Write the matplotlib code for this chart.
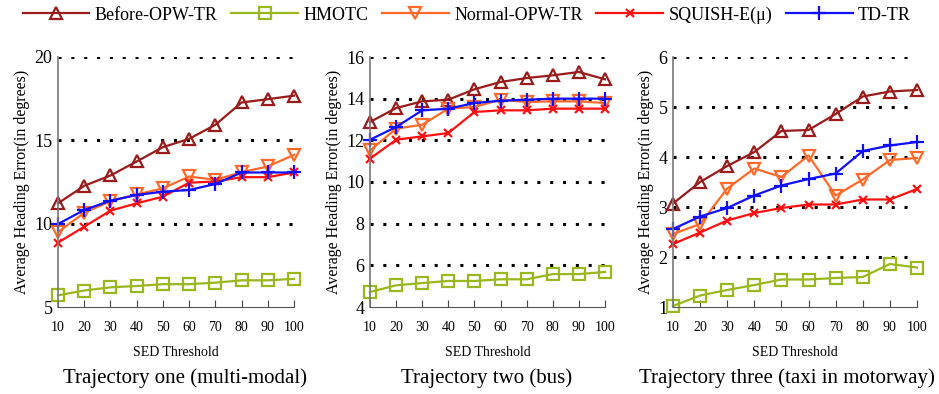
import matplotlib
matplotlib.use("Agg")
import matplotlib.pyplot as plt

plt.rcParams['font.family'] = ['Liberation Serif', 'DejaVu Serif']

# ── Data ──────────────────────────────────────────────────────────────────────
thresholds = [10, 20, 30, 40, 50, 60, 70, 80, 90, 100]

series_names = ['Before-OPW-TR', 'HMOTC', 'Normal-OPW-TR', 'SQUISH-E(\u03bc)', 'TD-TR']

# Trajectory one (multi-modal)
t1_before = [11.22, 12.27, 12.89, 13.73, 14.59, 15.09, 15.93, 17.27, 17.47, 17.68]
t1_hmotc  = [5.70, 5.99, 6.18, 6.26, 6.37, 6.37, 6.46, 6.60, 6.60, 6.69]
t1_normal = [9.50, 10.65, 11.35, 11.75, 12.12, 12.83, 12.63, 13.09, 13.43, 14.13]
t1_squish = [8.86, 9.82, 10.78, 11.22, 11.62, 12.46, 12.53, 12.79, 12.79, 13.07]
t1_td     = [9.98, 10.82, 11.38, 11.72, 11.92, 12.02, 12.38, 13.07, 13.07, 13.07]

# Trajectory two (bus)
t2_before = [12.88, 13.55, 13.87, 13.95, 14.45, 14.80, 14.99, 15.12, 15.28, 14.93]
t2_hmotc  = [4.72, 5.04, 5.15, 5.25, 5.25, 5.33, 5.33, 5.58, 5.58, 5.68]
t2_normal = [11.52, 12.56, 12.75, 13.52, 13.60, 13.95, 13.84, 13.87, 13.87, 13.79]
t2_squish = [11.12, 12.03, 12.19, 12.35, 13.36, 13.44, 13.44, 13.52, 13.52, 13.52]
t2_td     = [12.03, 12.64, 13.44, 13.52, 13.79, 13.90, 13.95, 14.00, 14.00, 14.00]

# Trajectory three (taxi in motorway)
t3_before = [3.07, 3.50, 3.82, 4.10, 4.52, 4.54, 4.86, 5.21, 5.31, 5.34]
t3_hmotc  = [1.02, 1.23, 1.34, 1.44, 1.55, 1.55, 1.58, 1.60, 1.86, 1.79]
t3_normal = [2.46, 2.66, 3.37, 3.77, 3.60, 4.03, 3.23, 3.55, 3.94, 3.98]
t3_squish = [2.26, 2.49, 2.73, 2.88, 2.98, 3.05, 3.05, 3.15, 3.15, 3.36]
t3_td     = [2.56, 2.81, 2.98, 3.23, 3.43, 3.56, 3.67, 4.12, 4.23, 4.30]

panels = [
    ('Trajectory one (multi-modal)', [t1_before, t1_hmotc, t1_normal, t1_squish, t1_td], (5, 20), [5, 10, 15, 20]),
    ('Trajectory two (bus)', [t2_before, t2_hmotc, t2_normal, t2_squish, t2_td], (4, 16), [4, 6, 8, 10, 12, 14, 16]),
    ('Trajectory three (taxi in motorway)', [t3_before, t3_hmotc, t3_normal, t3_squish, t3_td], (1, 6), [1, 2, 3, 4, 5, 6]),
]

# ── Styles ────────────────────────────────────────────────────────────────────
styles = [
    dict(color='#9b1b1b', marker='^', mfc='none', ms=9),
    dict(color='#99b81e', marker='s', mfc='none', ms=8),
    dict(color='#ff6a2a', marker='v', mfc='none', ms=9),
    dict(color='#ff1010', marker='x', ms=6),
    dict(color='#1010ff', marker='+', ms=10),
]

fig = plt.figure(figsize=(9.39, 3.94), dpi=100)
W, H = 939, 394
ax_boxes = [(58, 294), (370, 605), (673, 917)]
title_x = [185, 487, 787]
top_px, bot_px = 57, 307

for (title, data, ylim, yticks), (x0, x1), tx in zip(panels, ax_boxes, title_x):
    ax = fig.add_axes([x0 / W, 1 - bot_px / H, (x1 - x0) / W, (bot_px - top_px) / H])
    for vals, name, st in zip(data, series_names, styles):
        ax.plot(thresholds, vals, lw=1.6, mew=1.6, label=name, clip_on=False, **st)
    ax.set_xlim(10, 100)
    ax.set_ylim(*ylim)
    ax.set_xticks(thresholds)
    ax.set_yticks(yticks)
    for y in yticks[1:]:
        ax.axhline(y, color='black', lw=2.2, ls=(0, (1, 3.2)), zorder=0)
    ax.spines['top'].set_visible(False)
    ax.spines['right'].set_visible(False)
    ax.spines['left'].set_color('#777777')
    ax.spines['left'].set_linewidth(1.2)
    ax.spines['bottom'].set_color('#555555')
    ax.tick_params(axis='x', direction='in', length=5, color='#444444',
                   labelsize=10, pad=10)
    ax.tick_params(axis='y', length=0, labelsize=13, pad=4)
    ax.set_ylabel('Average Heading Error(in degrees)', fontsize=11.5, labelpad=3)
    ax.set_xlabel('SED Threshold', fontsize=10, labelpad=9)
    fig.text(tx / W, 1 - 378 / H, title, ha='center', va='center', fontsize=15)

handles, labels = ax.get_legend_handles_labels()
fig.legend(handles, labels, loc='upper center', bbox_to_anchor=(0.497, 1.025),
           ncol=5, frameon=False, fontsize=13, handlelength=3.7,
           columnspacing=0.75, handletextpad=0.3)

fig.savefig('out.png', dpi=100)
